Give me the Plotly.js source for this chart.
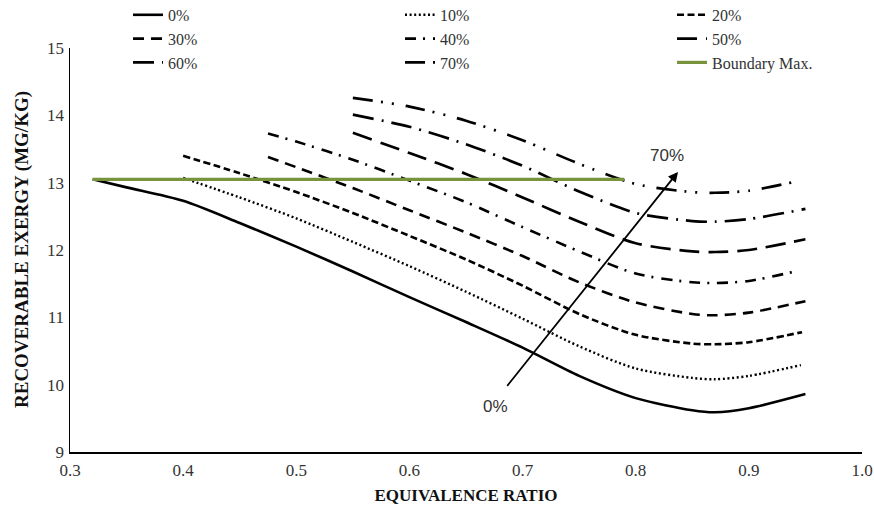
<!DOCTYPE html>
<html>
<head>
<meta charset="utf-8">
<script src="https://cdn.plot.ly/plotly-3.0.1.min.js"></script>
<style>
html,body{margin:0;padding:0;background:#fff;}
#chart{width:874px;height:505px;}
</style>
</head>
<body>
<div id="chart"></div>
<script>
// ---- data ----
var seriesNames = ['0%', '10%', '20%', '30%', '40%', '50%', '60%', '70%'];

var phi0  = [0.32, 0.35, 0.40, 0.45, 0.50, 0.55, 0.60, 0.65, 0.70, 0.75, 0.80, 0.85, 0.87, 0.90, 0.95];
var ex0   = [13.05, 12.93, 12.73, 12.40, 12.05, 11.68, 11.30, 10.93, 10.55, 10.13, 9.80, 9.62, 9.59, 9.65, 9.86];

var phi10 = [0.40, 0.45, 0.50, 0.55, 0.60, 0.65, 0.70, 0.75, 0.80, 0.85, 0.87, 0.90, 0.946];
var ex10  = [13.07, 12.78, 12.47, 12.12, 11.76, 11.38, 10.98, 10.57, 10.24, 10.10, 10.08, 10.13, 10.29];

var phi20 = [0.40, 0.45, 0.50, 0.55, 0.60, 0.65, 0.70, 0.75, 0.80, 0.85, 0.87, 0.90, 0.947];
var ex20  = [13.40, 13.14, 12.86, 12.55, 12.21, 11.86, 11.47, 11.05, 10.74, 10.61, 10.60, 10.63, 10.78];

var phi30 = [0.475, 0.50, 0.55, 0.60, 0.65, 0.70, 0.75, 0.80, 0.85, 0.87, 0.90, 0.95];
var ex30  = [13.38, 13.23, 12.92, 12.59, 12.26, 11.91, 11.52, 11.22, 11.05, 11.03, 11.07, 11.24];

var phi40 = [0.475, 0.50, 0.55, 0.60, 0.65, 0.70, 0.75, 0.80, 0.85, 0.87, 0.90, 0.943];
var ex40  = [13.73, 13.61, 13.34, 13.03, 12.71, 12.34, 11.98, 11.65, 11.52, 11.51, 11.54, 11.69];

var phi50 = [0.55, 0.60, 0.65, 0.70, 0.75, 0.80, 0.85, 0.87, 0.90, 0.95];
var ex50  = [13.74, 13.44, 13.13, 12.78, 12.42, 12.10, 11.98, 11.97, 12.00, 12.16];

var phi60 = [0.55, 0.60, 0.65, 0.70, 0.75, 0.80, 0.85, 0.87, 0.90, 0.95];
var ex60  = [14.01, 13.83, 13.57, 13.25, 12.87, 12.55, 12.43, 12.42, 12.46, 12.61];

var phi70 = [0.55, 0.60, 0.65, 0.70, 0.75, 0.80, 0.85, 0.87, 0.90, 0.94];
var ex70  = [14.26, 14.13, 13.92, 13.63, 13.28, 12.98, 12.86, 12.85, 12.88, 13.01];

var boundaryName = 'Boundary Max.';
var phiB = [0.32, 0.79];
var exB  = [13.05, 13.05];

// arrow annotation (from 0% towards 70%)
var arrowTail = [0.6854, 9.96];
var arrowHead = [0.8374, 13.16];
var labelLow  = {text: '0%',  x: 0.6765, y: 9.675};
var labelHigh = {text: '70%', x: 0.828,  y: 13.41};

var xTicks = [0.3, 0.4, 0.5, 0.6, 0.7, 0.8, 0.9, 1.0];
var yTicks = [9, 10, 11, 12, 13, 14, 15];

var xTitleText = 'EQUIVALENCE RATIO';
var yTitleText = 'RECOVERABLE EXERGY (MG/KG)';

// ---- styles ----
var phis = [phi0, phi10, phi20, phi30, phi40, phi50, phi60, phi70];
var exs  = [ex0, ex10, ex20, ex30, ex40, ex50, ex60, ex70];
var dashes = [
  'solid',
  '2px,2.6px',
  '7px,3.5px',
  '11px,7px',
  '11px,7px,2px,8px',
  '20px,9px',
  '21px,8px,2px,8px',
  '20px,8px,2px,9px,2px,12px'
];
var widths = [2.6, 2.4, 2.6, 2.6, 2.6, 2.7, 2.7, 2.7];
// legend column for each series (3 columns, filled row by row)
var legendIds = ['legend', 'legend2', 'legend3', 'legend', 'legend2', 'legend3', 'legend', 'legend2'];

var serif = '"Liberation Serif", "Times New Roman", serif';
var sans = '"Liberation Sans", Arial, sans-serif';
var textCol = '#333333';

var traces = [];
for (var i = 0; i < seriesNames.length; i++) {
  traces.push({
    type: 'scatter', mode: 'lines',
    name: seriesNames[i],
    legend: legendIds[i],
    x: phis[i], y: exs[i],
    line: {color: '#000000', width: widths[i], dash: dashes[i], shape: 'spline', smoothing: 0.8},
    hoverinfo: 'skip'
  });
}
traces.push({
  type: 'scatter', mode: 'lines',
  name: boundaryName,
  legend: 'legend3',
  x: phiB, y: exB,
  line: {color: '#77933C', width: 3.2},
  hoverinfo: 'skip'
});

function legendAt(xPix) {
  return {
    orientation: 'v',
    xref: 'container', yref: 'paper',
    x: xPix / 874, xanchor: 'left',
    y: 1.124, yanchor: 'top',
    font: {family: serif, size: 16, color: textCol},
    bgcolor: 'rgba(0,0,0,0)',
    traceorder: 'normal',
    tracegroupgap: 0
  };
}

var layout = {
  width: 874, height: 505,
  margin: {l: 70, r: 12, t: 48, b: 53, pad: 0, autoexpand: false},
  paper_bgcolor: '#ffffff', plot_bgcolor: '#ffffff',
  showlegend: true,
  legend: legendAt(128),
  legend2: legendAt(400),
  legend3: legendAt(672),
  xaxis: {
    range: [0.3, 1.0],
    tickvals: xTicks,
    tickformat: '.1f',
    showgrid: false, zeroline: false,
    showline: true, linecolor: '#000000', linewidth: 1.5,
    ticks: '',
    ticklabelstandoff: 2,
    tickfont: {family: serif, size: 17, color: textCol},
    title: {text: xTitleText, font: {family: serif, size: 17, color: '#111111', weight: 'bold'}},
    automargin: false
  },
  yaxis: {
    range: [9, 15],
    tickvals: yTicks,
    showgrid: false, zeroline: false,
    showline: true, linecolor: '#000000', linewidth: 1.5,
    ticks: '',
    ticklabelstandoff: 1,
    tickfont: {family: serif, size: 17, color: textCol},
    automargin: false
  },
  annotations: [
    {
      // y-axis title
      xref: 'paper', yref: 'paper', x: -48 / 792, y: 0.5,
      xanchor: 'center', yanchor: 'middle',
      text: '<b>' + yTitleText + '</b>', textangle: -90, showarrow: false,
      font: {family: serif, size: 19, color: '#111111'}
    },
    {
      x: arrowHead[0], y: arrowHead[1], xref: 'x', yref: 'y',
      ax: arrowTail[0], ay: arrowTail[1], axref: 'x', ayref: 'y',
      text: '', showarrow: true,
      arrowhead: 2, arrowsize: 1.1, arrowwidth: 1.8, arrowcolor: '#000000',
      standoff: 0, startstandoff: 0
    },
    {
      x: labelLow.x, y: labelLow.y, xref: 'x', yref: 'y',
      text: labelLow.text, showarrow: false,
      font: {family: sans, size: 17, color: textCol}
    },
    {
      x: labelHigh.x, y: labelHigh.y, xref: 'x', yref: 'y',
      text: labelHigh.text, showarrow: false,
      font: {family: sans, size: 17, color: textCol}
    }
  ]
};

Plotly.newPlot('chart', traces, layout, {staticPlot: true, displayModeBar: false});
</script>
</body>
</html>
